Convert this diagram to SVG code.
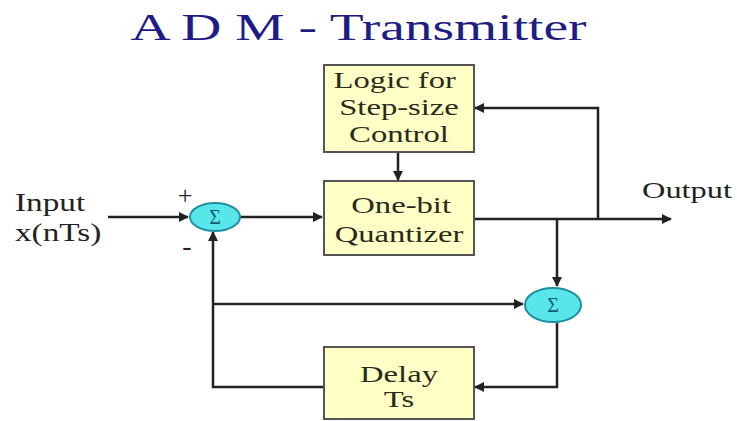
<svg xmlns="http://www.w3.org/2000/svg" width="737" height="421" viewBox="0 0 737 421">
<style>
.box{fill:#ffffc6;stroke:#555;stroke-width:2}
.sum{fill:#58e6ea;stroke:#1f8fa0;stroke-width:2}
.w{fill:none;stroke:#222;stroke-width:2.5}
</style>
<defs>
<marker id="a" viewBox="0 0 10 10" refX="9" refY="5" markerWidth="4" markerHeight="4" orient="auto">
<path d="M0,0 L10,5 L0,10 z" fill="#222"/>
</marker>
</defs>
<rect width="737" height="421" fill="#fff"/>
<g id="title" transform="translate(358.5,0) scale(1.46,1)">
<text x="0" y="40" font-family="Liberation Serif,serif" font-size="38" fill="#1d1d85" text-anchor="middle">A D M - Transmitter</text>
</g>
<g id="connectors">
<path class="w" d="M108,217 H188" marker-end="url(#a)"/>
<path class="w" d="M240,217 H322" marker-end="url(#a)"/>
<path class="w" d="M398,152 V180" marker-end="url(#a)"/>
<path class="w" d="M474,219 H671" marker-end="url(#a)"/>
<path class="w" d="M598,219 V108 H475" marker-end="url(#a)"/>
<path class="w" d="M557,219 V286" marker-end="url(#a)"/>
<path class="w" d="M213,304 H523" marker-end="url(#a)"/>
<path class="w" d="M557,323 V387 H475" marker-end="url(#a)"/>
<path class="w" d="M323,387 H213 V232" marker-end="url(#a)"/>
</g>
<g id="input" transform="translate(15,0) scale(1.33,1)" font-family="Liberation Serif,serif" font-size="25" fill="#222">
<text x="0" y="211">Input</text>
<text x="0" y="241">x(nTs)</text>
</g>
<g id="sum1" font-family="Liberation Serif,serif">
<ellipse class="sum" cx="215" cy="217" rx="25" ry="14"/>
<text x="215" y="224" font-size="20" fill="#1a5a70" text-anchor="middle">Σ</text>
<text x="185" y="204" font-size="26" fill="#222" text-anchor="middle">+</text>
<text x="187" y="255" font-size="28" fill="#222" text-anchor="middle">-</text>
</g>
<g id="logic">
<rect class="box" x="324" y="65" width="150" height="87"/>
<g transform="translate(399,0) scale(1.42,1)" font-family="Liberation Serif,serif" font-size="23" fill="#2a2a1a" text-anchor="middle">
<text x="-3" y="88">Logic for</text>
<text x="0" y="115">Step-size</text>
<text x="0" y="142">Control</text>
</g>
</g>
<g id="quantizer">
<rect class="box" x="324" y="181" width="150" height="74"/>
<g transform="translate(399,0) scale(1.42,1)" font-family="Liberation Serif,serif" font-size="23" fill="#2a2a1a" text-anchor="middle">
<text x="1.5" y="213">One-bit</text>
<text x="0" y="242">Quantizer</text>
</g>
</g>
<g id="sum2" font-family="Liberation Serif,serif">
<ellipse class="sum" cx="553" cy="305" rx="28" ry="17"/>
<text x="553" y="312" font-size="20" fill="#1a5a70" text-anchor="middle">Σ</text>
</g>
<g id="delay">
<rect class="box" x="324" y="347" width="150" height="72"/>
<g transform="translate(399,0) scale(1.42,1)" font-family="Liberation Serif,serif" font-size="23" fill="#2a2a1a" text-anchor="middle">
<text x="0" y="382">Delay</text>
<text x="0" y="407">Ts</text>
</g>
</g>
<g id="output" transform="translate(642,0) scale(1.35,1)" font-family="Liberation Serif,serif" font-size="24" fill="#222">
<text x="0" y="198">Output</text>
</g>
</svg>
